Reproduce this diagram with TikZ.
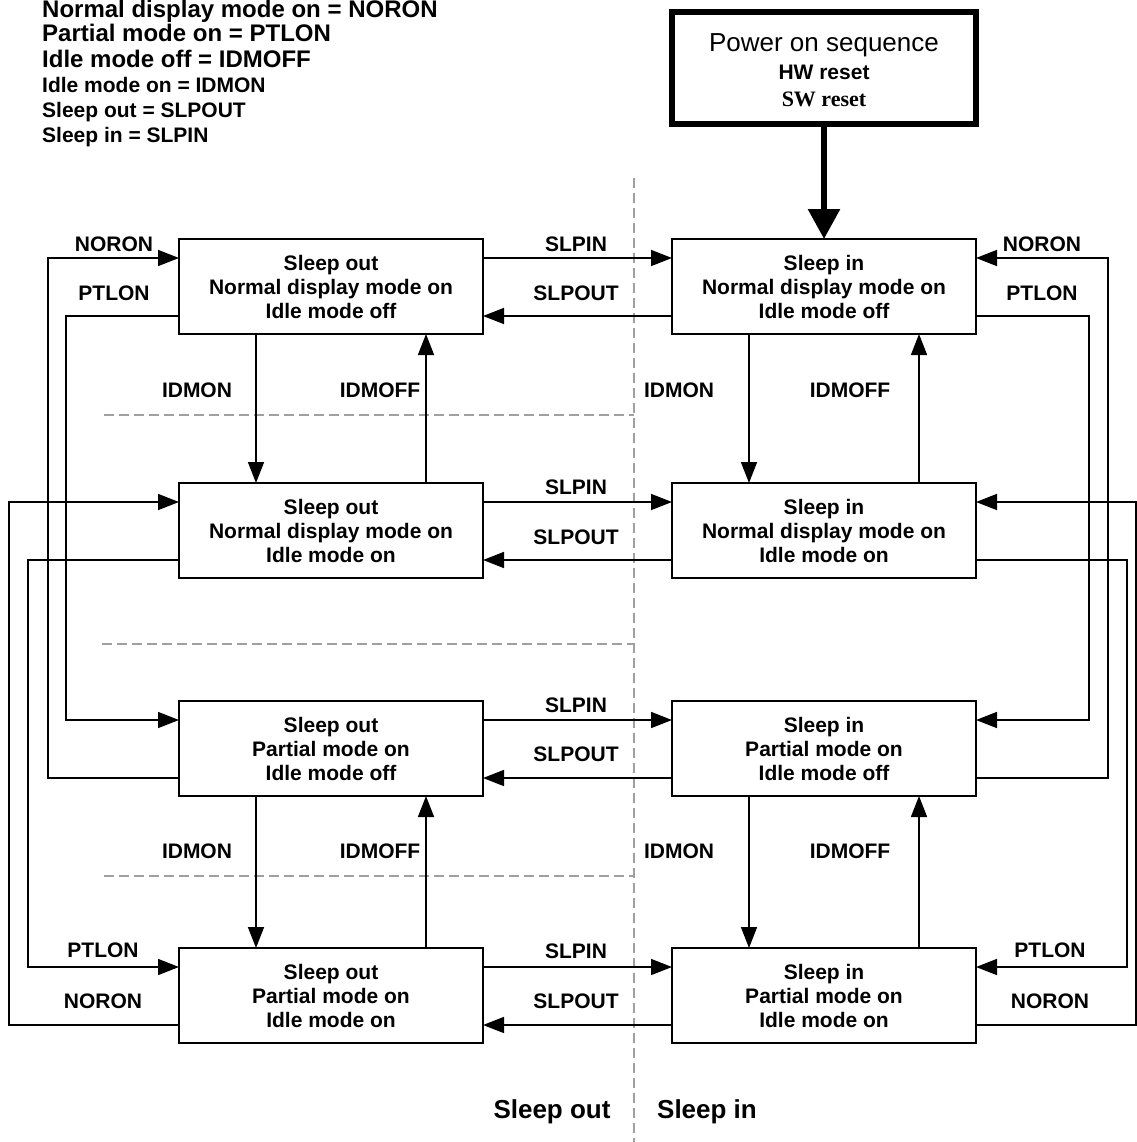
\documentclass[tikz,border=0pt]{standalone}
\usepackage{fontspec}
\setmainfont{Liberation Sans}
\newfontfamily\serifb{Liberation Serif}
\usetikzlibrary{arrows.meta}
\definecolor{dgray}{HTML}{A0A0A0}
\begin{document}
\begin{tikzpicture}[x=1pt,y=-1pt,
  statebox/.style={draw, line width=1.8pt, minimum width=304pt, minimum height=95pt,
    inner sep=0pt, outer sep=0pt, align=center, font=\bfseries\fontsize{21}{24}\selectfont},
  lbl/.style={anchor=base, inner sep=0pt, font=\bfseries\fontsize{21}{24}\selectfont},
  biglbl/.style={anchor=base, inner sep=0pt, font=\bfseries\fontsize{26}{28}\selectfont},
  legbig/.style={anchor=base west, inner sep=0pt, font=\bfseries\fontsize{24}{26}\selectfont},
  legsmall/.style={anchor=base west, inner sep=0pt, font=\bfseries\fontsize{21}{24}\selectfont},
  arr/.style={line width=1.6pt, -{Triangle[length=21pt,width=16pt]}},
  divider/.style={dgray, line width=1.4pt, dash pattern=on 10pt off 5pt}
]
\useasboundingbox (0,0) rectangle (1136,1142);

% legend
\node[legbig] (lg1) at (42,18) {Normal display mode on = NORON};
\node[legbig] (lg2) at (42,42) {Partial mode on = PTLON};
\node[legbig] (lg3) at (42,68) {Idle mode off = IDMOFF};
\node[legsmall] (lg4) at (42,93) {Idle mode on = IDMON};
\node[legsmall] (lg5) at (42,118) {Sleep out = SLPOUT};
\node[legsmall] (lg6) at (42,143) {Sleep in = SLPIN};

% dividers
\draw[divider] (634,178) -- (634,1142);
\draw[divider] (104,415) -- (634,415);
\draw[divider] (102,644) -- (634,644);
\draw[divider] (104,876) -- (634,876);

% power on box
\node[draw, line width=6pt, minimum width=304pt, minimum height=112pt, inner sep=0pt, outer sep=0pt] (pwr) at (824,68) {};
\node[anchor=base, inner sep=0pt, font=\fontsize{26}{28}\selectfont] (pw1) at (824,52) {Power on sequence};
\node[anchor=base, inner sep=0pt, font=\bfseries\fontsize{21}{24}\selectfont] (pw2) at (824,80) {HW reset};
\node[anchor=base, inner sep=0pt, font=\serifb\bfseries\fontsize{22}{24}\selectfont] (pw3) at (824,107) {SW reset};

% state boxes
\node[statebox] (b1) at (331,286.5) {Sleep out\\Normal display mode on\\Idle mode off};
\node[statebox] (r1) at (824,286.5) {Sleep in\\Normal display mode on\\Idle mode off};
\node[statebox] (b2) at (331,530.5) {Sleep out\\Normal display mode on\\Idle mode on};
\node[statebox] (r2) at (824,530.5) {Sleep in\\Normal display mode on\\Idle mode on};
\node[statebox] (b3) at (331,748.5) {Sleep out\\Partial mode on\\Idle mode off};
\node[statebox] (r3) at (824,748.5) {Sleep in\\Partial mode on\\Idle mode off};
\node[statebox] (b4) at (331,995.5) {Sleep out\\Partial mode on\\Idle mode on};
\node[statebox] (r4) at (824,995.5) {Sleep in\\Partial mode on\\Idle mode on};

% power arrow
\draw[line width=6pt, -{Triangle[length=30pt,width=31pt]}] (pwr.south) -- (r1.north);

% SLPIN / SLPOUT
\foreach \l/\r in {b1/r1,b2/r2,b3/r3,b4/r4}{
  \draw[arr] ([yshift=-19pt]\l.north east) -- ([yshift=-19pt]\r.north west);
  \draw[arr] ([yshift=-77pt]\r.north west) -- ([yshift=-77pt]\l.north east);
}

% IDMON / IDMOFF
\foreach \a/\b in {b1/b2,r1/r2,b3/b4,r3/r4}{
  \draw[arr] ([xshift=-75pt]\a.south) -- ([xshift=-75pt]\b.north);
  \draw[arr] ([xshift=95pt]\b.north) -- ([xshift=95pt]\a.south);
}

% left wiring
\draw[arr] ([yshift=-77pt]b3.north west) -- ++(-131pt,0) |- ([yshift=-19pt]b1.north west);
\draw[arr] ([yshift=-77pt]b1.north west) -- ++(-113pt,0) |- ([yshift=-19pt]b3.north west);
\draw[arr] ([yshift=-77pt]b4.north west) -- ++(-170pt,0) |- ([yshift=-19pt]b2.north west);
\draw[arr] ([yshift=-77pt]b2.north west) -- ++(-151pt,0) |- ([yshift=-19pt]b4.north west);

% right wiring
\draw[arr] ([yshift=-77pt]r3.north east) -- ++(132pt,0) |- ([yshift=-19pt]r1.north east);
\draw[arr] ([yshift=-77pt]r1.north east) -- ++(113pt,0) |- ([yshift=-19pt]r3.north east);
\draw[arr] ([yshift=-77pt]r4.north east) -- ++(160pt,0) |- ([yshift=-19pt]r2.north east);
\draw[arr] ([yshift=-77pt]r2.north east) -- ++(151pt,0) |- ([yshift=-19pt]r4.north east);

% labels row 1
\node[lbl] (l1a) at (114,251) {NORON};
\node[lbl] (l1b) at (114,300) {PTLON};
\node[lbl] (l1c) at (576,251) {SLPIN};
\node[lbl] (l1d) at (576,300) {SLPOUT};
\node[lbl] (l1e) at (1042,251) {NORON};
\node[lbl] (l1f) at (1042,300) {PTLON};
% idm labels 1-2
\node[lbl] (m1a) at (197,397) {IDMON};
\node[lbl] (m1b) at (380,397) {IDMOFF};
\node[lbl] (m1c) at (679,397) {IDMON};
\node[lbl] (m1d) at (850,397) {IDMOFF};
% row 2
\node[lbl] (l2c) at (576,494) {SLPIN};
\node[lbl] (l2d) at (576,544) {SLPOUT};
% row 3
\node[lbl] (l3c) at (576,712) {SLPIN};
\node[lbl] (l3d) at (576,761) {SLPOUT};
% idm labels 3-4
\node[lbl] (m3a) at (197,858) {IDMON};
\node[lbl] (m3b) at (380,858) {IDMOFF};
\node[lbl] (m3c) at (679,858) {IDMON};
\node[lbl] (m3d) at (850,858) {IDMOFF};
% row 4
\node[lbl] (l4a) at (103,957) {PTLON};
\node[lbl] (l4b) at (103,1008) {NORON};
\node[lbl] (l4c) at (576,958) {SLPIN};
\node[lbl] (l4d) at (576,1008) {SLPOUT};
\node[lbl] (l4e) at (1050,957) {PTLON};
\node[lbl] (l4f) at (1050,1008) {NORON};

% bottom
\node[biglbl] (so) at (552,1118) {Sleep out};
\node[biglbl] (si) at (707,1118) {Sleep in};
\end{tikzpicture}
\end{document}
